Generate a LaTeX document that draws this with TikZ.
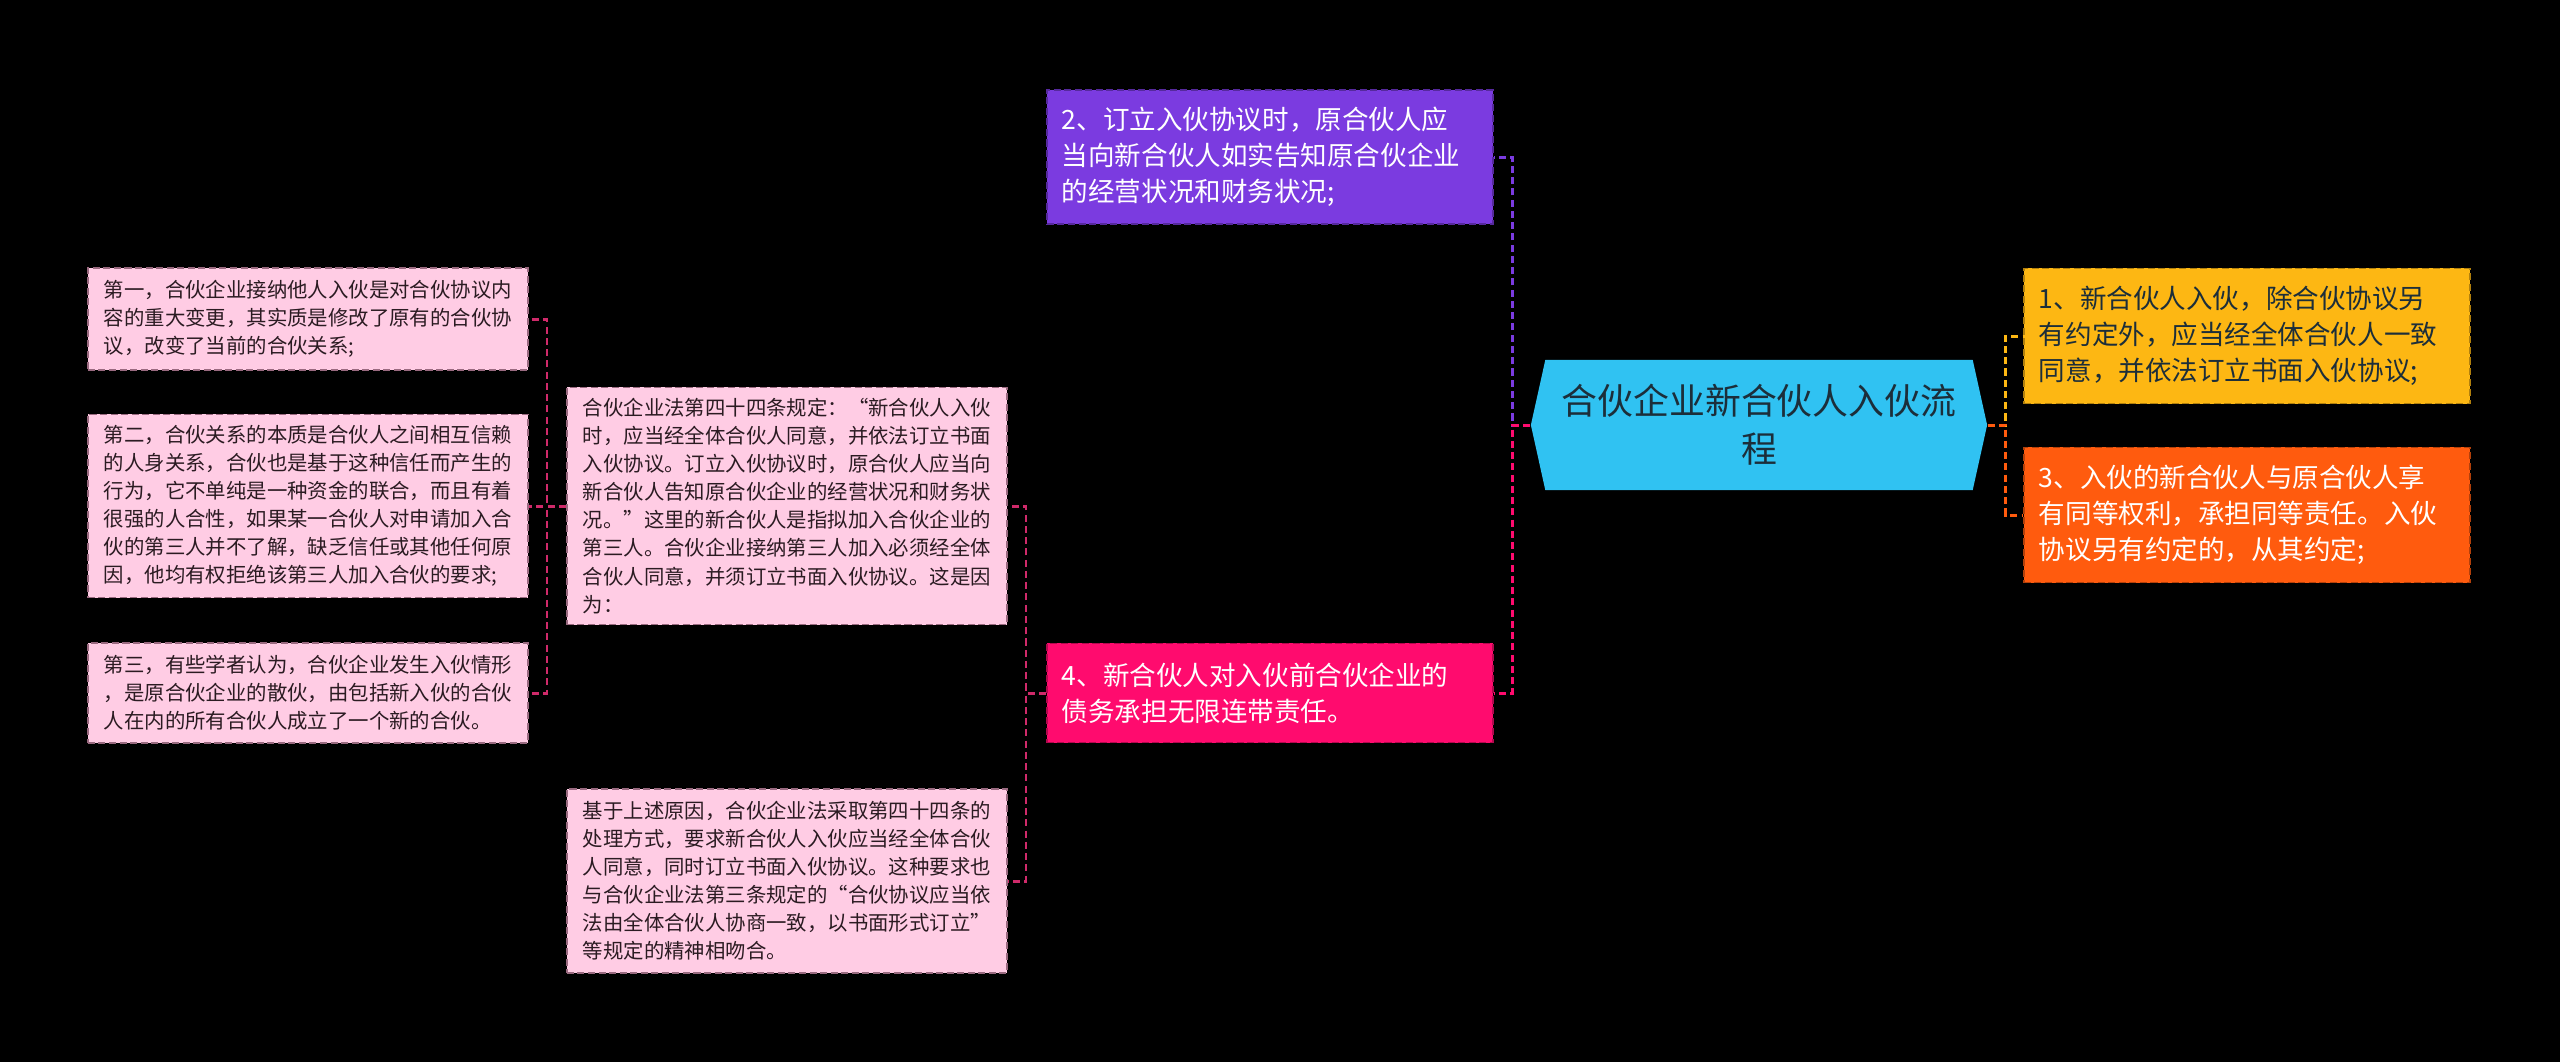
\documentclass[tikz,border=0pt]{standalone}
\usepackage{fontspec}
\setmainfont{Noto Sans CJK SC}
\usetikzlibrary{shapes.symbols}

\definecolor{leafpink}{HTML}{FFCCE4}
\definecolor{leafedge}{HTML}{9A6A80}
\definecolor{leaftext}{HTML}{2B1B22}
\definecolor{linkpink}{HTML}{CF2A6A}
\definecolor{subpurple}{HTML}{7B3BE0}
\definecolor{submagenta}{HTML}{FF0B6E}
\definecolor{rootblue}{HTML}{30C2F2}
\definecolor{roottext}{HTML}{1C2E3A}
\definecolor{subyellow}{HTML}{FDB713}
\definecolor{suborange}{HTML}{FF5B0E}

\tikzset{
  leaf/.style={fill=leafpink, draw=leafedge, dash pattern=on 2pt off 1pt, line width=0.5pt,
    text=leaftext, align=left, text width=4.08cm, inner xsep=0.16cm, inner ysep=0pt,
    font=\fontsize{5.8pt}{7.97pt}\selectfont},
  sub/.style={draw=#1!70!black, fill=#1, dash pattern=on 2pt off 1pt, line width=0.5pt,
    text=white, align=left, text width=4.16cm, inner xsep=0.15cm, inner ysep=0pt,
    font=\fontsize{7.55pt}{10.2pt}\selectfont},
  link/.style={draw=#1, dash pattern=on 2pt off 1.2pt, line width=0.85pt},
}

\begin{document}
\begin{tikzpicture}[x=0.01cm, y=-0.01cm]
  \fill[black] (0,0) rectangle (2560,1062);

  % root
  \node[signal, signal to=west and east, signal pointer angle=155, fill=rootblue,
    minimum width=4.56cm, minimum height=1.30cm, inner sep=0pt, align=center,
    text=roottext, font=\fontsize{10.2pt}{13.7pt}\selectfont] (root) at (1759,425)
    {合伙企业新合伙人入伙流\\程};

  % right branch
  \node[sub=subyellow, text=roottext, minimum height=1.35cm] (one) at (2247,336)
    {1、新合伙人入伙，除合伙协议另\\有约定外，应当经全体合伙人一致\\同意，并依法订立书面入伙协议;};
  \node[sub=suborange, minimum height=1.35cm] (three) at (2247,515)
    {3、入伙的新合伙人与原合伙人享\\有同等权利，承担同等责任。入伙\\协议另有约定的，从其约定;};

  % left branch
  \node[sub=subpurple, minimum height=1.34cm] (two) at (1270,157)
    {2、订立入伙协议时，原合伙人应\\当向新合伙人如实告知原合伙企业\\的经营状况和财务状况;};
  \node[sub=submagenta, minimum height=0.99cm] (four) at (1270,693)
    {4、新合伙人对入伙前合伙企业的\\债务承担无限连带责任。};

  % details of 4
  \node[leaf, minimum height=2.37cm] (law) at (787,506)
    {合伙企业法第四十四条规定：“新合伙人入伙\\时，应当经全体合伙人同意，并依法订立书面\\入伙协议。订立入伙协议时，原合伙人应当向\\新合伙人告知原合伙企业的经营状况和财务状\\况。”这里的新合伙人是指拟加入合伙企业的\\第三人。合伙企业接纳第三人加入必须经全体\\合伙人同意，并须订立书面入伙协议。这是因\\为：};
  \node[leaf, minimum height=1.84cm] (reason) at (787,881)
    {基于上述原因，合伙企业法采取第四十四条的\\处理方式，要求新合伙人入伙应当经全体合伙\\人同意，同时订立书面入伙协议。这种要求也\\与合伙企业法第三条规定的“合伙协议应当依\\法由全体合伙人协商一致，以书面形式订立”\\等规定的精神相吻合。};

  % details of the law
  \node[leaf, minimum height=1.02cm] (first) at (308,319)
    {第一，合伙企业接纳他人入伙是对合伙协议内\\容的重大变更，其实质是修改了原有的合伙协\\议，改变了当前的合伙关系;};
  \node[leaf, minimum height=1.83cm] (second) at (308,506)
    {第二，合伙关系的本质是合伙人之间相互信赖\\的人身关系，合伙也是基于这种信任而产生的\\行为，它不单纯是一种资金的联合，而且有着\\很强的人合性，如果某一合伙人对申请加入合\\伙的第三人并不了解，缺乏信任或其他任何原\\因，他均有权拒绝该第三人加入合伙的要求;};
  \node[leaf, minimum height=1.00cm] (third) at (308,693)
    {第三，有些学者认为，合伙企业发生入伙情形\\，是原合伙企业的散伙，由包括新入伙的合伙\\人在内的所有合伙人成立了一个新的合伙。};

  % connectors
  \draw[link=subyellow] (root.east) -- ++(18,0) |- (one.west);
  \draw[link=suborange] (root.east) -- ++(18,0) |- (three.west);
  \draw[link=subpurple] (root.west) -- ++(-18,0) |- (two.east);
  \draw[link=submagenta] (root.west) -- ++(-18,0) |- (four.east);
  \draw[link=linkpink] (four.west) -- ++(-20,0) |- (law.east);
  \draw[link=linkpink] (four.west) -- ++(-20,0) |- (reason.east);
  \draw[link=linkpink] (law.west) -- ++(-19,0) |- (first.east);
  \draw[link=linkpink] (law.west) -- ++(-19,0) |- (second.east);
  \draw[link=linkpink] (law.west) -- ++(-19,0) |- (third.east);
\end{tikzpicture}
\end{document}
